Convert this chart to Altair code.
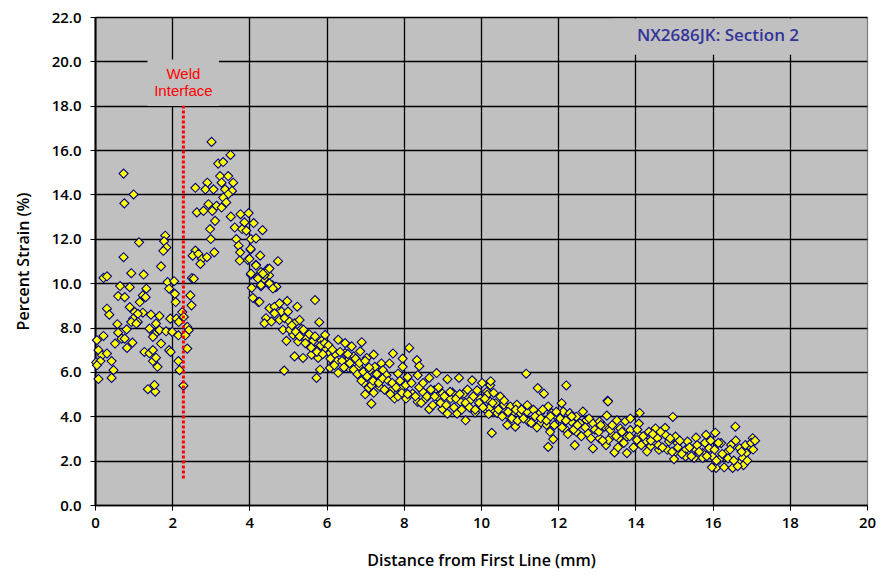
import altair as alt
import pandas as pd

# ---- data: (distance mm, percent strain) ----
near_start = [
    (0.74, 14.94), (1.0, 14.0), (0.76, 13.6), (1.14, 11.84), (1.82, 12.14), (1.79, 11.89),
    (1.85, 11.61), (1.77, 11.46), (0.74, 11.17), (1.71, 10.76), (0.22, 10.24), (0.31, 10.31),
    (0.94, 10.45), (1.26, 10.39), (0.65, 9.87), (0.9, 9.82), (1.33, 9.75), (0.6, 9.42),
    (0.77, 9.37), (1.24, 9.45), (1.31, 9.37), (0.31, 8.85), (0.37, 8.58), (0.9, 8.92),
    (1.16, 9.15), (1.03, 8.7), (1.24, 8.67), (1.11, 8.62), (0.99, 8.4), (1.11, 8.25),
    (0.94, 8.25), (1.45, 8.58), (1.67, 8.52), (0.58, 8.15), (0.82, 7.92), (1.07, 8.18),
    (1.41, 7.95), (1.58, 8.18), (1.67, 7.88), (1.54, 7.68), (1.84, 7.83), (0.05, 7.43),
    (0.22, 7.62), (0.6, 7.77), (0.69, 7.5), (0.52, 7.28), (0.77, 7.5), (0.97, 7.32),
    (0.83, 7.08), (1.5, 7.58), (1.71, 7.28), (1.28, 6.9), (1.41, 6.84), (1.5, 6.98),
    (1.92, 6.98), (1.96, 6.9), (0.09, 6.98), (0.18, 6.75), (0.31, 6.83), (0.43, 6.49),
    (0.03, 6.43), (0.14, 6.49), (1.5, 6.49), (1.62, 6.23), (1.58, 6.64), (0.48, 6.08),
    (0.43, 5.73), (0.09, 5.68), (1.37, 5.22), (1.56, 5.11), (1.54, 5.41), (0.05, 6.3),
]
near_weld = [
    (1.88, 10.05), (2.05, 10.09), (1.92, 9.75), (2.07, 9.52), (2.09, 9.15), (1.95, 8.4),
    (2.11, 8.4), (2.17, 8.25), (2.0, 7.8), (2.16, 7.65), (2.39, 8.03), (2.43, 7.88),
    (2.34, 7.65), (2.39, 7.05), (2.16, 6.49), (2.19, 6.08), (2.29, 5.38), (2.26, 8.7),
    (2.3, 8.48), (2.47, 9.45), (2.5, 9.0), (2.51, 10.23), (2.56, 10.2), (2.6, 11.47),
    (2.53, 11.24), (2.68, 11.32), (2.77, 11.09), (2.9, 11.17), (2.73, 10.87), (3.09, 11.39),
]
peak = [
    (3.02, 16.37), (3.51, 15.78), (3.19, 15.39), (3.32, 15.46), (2.6, 14.3), (2.91, 14.53),
    (2.86, 14.23), (3.07, 14.23), (3.24, 14.83), (3.45, 14.83), (3.58, 14.53), (3.28, 14.53),
    (3.37, 14.23), (3.55, 14.16), (3.45, 14.01), (3.32, 13.86), (2.94, 13.56), (3.15, 13.49),
    (3.28, 13.41), (3.4, 13.64), (2.64, 13.19), (2.81, 13.26), (3.04, 13.26), (3.11, 12.81),
    (3.52, 13.0), (3.77, 13.11), (3.98, 13.16), (3.87, 12.74), (4.11, 12.71), (3.62, 12.51),
    (3.81, 12.44), (3.92, 12.37), (4.34, 12.39), (2.98, 12.44), (3.0, 11.99), (3.66, 11.99),
    (3.72, 11.69), (4.04, 11.99), (4.17, 12.02), (3.76, 11.39), (4.03, 11.51), (4.28, 11.24),
    (3.75, 11.02), (3.96, 11.05), (4.17, 10.83), (4.47, 10.64), (4.3, 10.5), (4.51, 10.35),
    (4.04, 10.38), (4.21, 10.27), (4.38, 10.2), (4.6, 9.9), (4.68, 9.82), (4.06, 9.79),
    (4.3, 9.86), (4.51, 9.94), (4.09, 9.34), (4.23, 9.15),
]
decline = [
    (4.03, 11.55), (4.74, 10.99), (4.0, 11.1), (4.17, 10.8), (4.04, 10.43), (4.22, 10.21),
    (4.39, 10.36), (4.48, 10.58), (4.52, 10.66), (4.35, 10.43), (4.3, 9.91), (4.52, 9.99),
    (4.7, 9.84), (4.61, 9.76), (4.26, 9.16), (5.7, 9.24), (4.52, 8.87), (4.65, 8.94),
    (4.78, 9.09), (4.98, 9.19), (5.24, 8.94), (4.83, 8.72), (5.0, 8.72), (4.65, 8.64),
    (4.43, 8.42), (4.39, 8.19), (4.57, 8.27), (4.78, 8.34), (4.91, 8.42), (5.04, 8.27),
    (5.17, 8.19), (5.3, 8.34), (5.35, 7.94), (5.81, 8.24), (4.87, 7.9), (5.13, 7.67),
    (4.96, 7.4), (5.26, 7.37), (5.48, 7.52), (5.65, 7.4), (5.52, 7.22), (5.87, 7.4),
    (5.96, 7.67), (5.17, 6.7), (5.39, 6.63), (5.61, 6.78), (5.78, 6.63), (5.7, 7.0),
    (5.96, 7.07), (6.09, 6.85), (6.3, 7.45), (6.48, 7.3), (6.65, 7.15), (6.91, 7.34),
    (4.9, 6.06), (5.74, 5.73), (5.83, 6.1), (6.09, 6.18), (6.3, 5.96), (6.57, 6.18),
    (6.83, 6.25), (7.09, 6.1), (7.26, 6.1), (6.22, 6.78), (6.48, 6.85), (6.7, 6.7),
    (6.87, 6.93), (7.04, 6.63), (7.22, 6.78), (6.57, 6.55), (6.26, 6.48), (6.96, 5.51),
    (7.09, 5.28), (7.22, 5.06), (7.3, 5.73), (7.0, 4.99),
    (5.05, 7.9), (5.1, 8.1), (5.2, 7.8), (5.3, 7.6), (5.4, 7.9), (5.45, 7.3), (5.55, 7.7),
    (5.6, 7.1), (5.7, 7.6), (5.75, 6.9), (5.85, 7.2), (5.9, 6.8), (5.95, 7.3),
    (6.05, 7.2), (6.1, 6.6), (6.15, 7.0), (6.2, 6.3), (6.35, 6.9), (6.4, 6.5), (6.45, 6.2),
    (6.55, 6.8), (6.6, 6.4), (6.7, 6.1), (6.75, 6.6), (6.8, 5.9), (6.85, 6.4), (6.95, 6.0),
    (7.0, 6.5), (6.9, 5.6),
]
middle = [
    (8.14, 7.08), (7.72, 6.83), (7.97, 6.6), (8.34, 6.53), (8.4, 6.26), (7.97, 6.23),
    (7.42, 6.38), (7.25, 6.23), (7.12, 6.08), (7.46, 6.08), (7.63, 6.38), (7.32, 5.85),
    (7.55, 5.85), (7.85, 5.92), (8.1, 5.77), (8.36, 5.85), (8.66, 5.73), (8.85, 5.95),
    (9.13, 5.67), (9.43, 5.73), (9.77, 5.62), (10.03, 5.5), (10.24, 5.4), (7.16, 5.4),
    (7.38, 5.32), (7.68, 5.17), (7.93, 5.25), (8.23, 5.02), (8.49, 5.1), (8.79, 5.17),
    (9.0, 5.02), (9.26, 5.07), (9.56, 5.02), (9.9, 5.17), (10.15, 5.1), (7.16, 4.57),
    (7.76, 4.8), (8.06, 4.8), (8.36, 4.65), (8.57, 4.8), (8.87, 4.87), (9.21, 4.8),
    (9.47, 4.65), (9.72, 4.72), (9.98, 4.8), (10.24, 4.65), (8.66, 4.32), (9.0, 4.32),
    (9.13, 4.12), (9.38, 4.12), (9.6, 3.82), (9.85, 4.17), (10.11, 4.32), (10.32, 4.2),
    (10.28, 3.25),
    (7.05, 5.8), (7.1, 6.2), (7.2, 5.6), (7.3, 5.9), (7.35, 5.5), (7.45, 5.7), (7.5, 5.2),
    (7.6, 5.6), (7.65, 5.0), (7.7, 5.5), (7.8, 5.3), (7.85, 4.9), (7.9, 5.6), (7.95, 5.05),
    (8.05, 5.4), (8.1, 5.0), (8.2, 5.5), (8.3, 4.9), (8.4, 5.3), (8.45, 4.6), (8.5, 5.5),
    (8.6, 4.9), (8.7, 5.2), (8.75, 4.5), (8.8, 4.9), (8.9, 5.3), (8.95, 4.6),
    (9.05, 4.9), (9.1, 4.5), (9.2, 5.1), (9.3, 4.4), (9.35, 4.8), (9.45, 5.0), (9.5, 4.3),
    (9.6, 4.6), (9.65, 5.2), (9.7, 4.4), (9.8, 4.9), (9.85, 4.3), (9.95, 4.6),
]
later = [
    (11.17, 5.92), (10.25, 5.58), (11.47, 5.27), (11.63, 5.02), (12.21, 5.39), (13.28, 4.7),
    (13.26, 4.03), (10.16, 4.97), (10.33, 5.05), (10.5, 4.89), (10.38, 4.59), (10.59, 4.52),
    (10.76, 4.44), (10.93, 4.52), (10.21, 4.36), (10.42, 4.14), (10.68, 4.06), (10.85, 4.21),
    (11.02, 4.14), (11.19, 4.21), (11.36, 4.29), (11.53, 4.14), (11.74, 4.44), (11.83, 4.14),
    (12.09, 4.59), (12.13, 4.21), (12.3, 4.14), (12.47, 3.98), (12.64, 4.21), (12.34, 3.76),
    (12.56, 3.68), (12.73, 3.83), (12.9, 3.68), (13.07, 3.76), (13.2, 3.53), (13.32, 3.45),
    (13.41, 3.15), (11.96, 3.98), (11.53, 3.68), (11.7, 3.61), (11.23, 3.76), (10.89, 3.53),
    (10.68, 3.61), (11.79, 3.3), (12.17, 3.45), (12.47, 3.3), (12.77, 3.23), (13.07, 3.0),
    (13.24, 2.7), (11.74, 2.62), (11.87, 2.97), (12.43, 2.7), (12.9, 2.55),
    (10.05, 4.4), (10.1, 4.8), (10.2, 4.1), (10.3, 4.6), (10.45, 4.3), (10.55, 4.0),
    (10.6, 4.7), (10.7, 4.2), (10.8, 3.9), (10.9, 4.3), (10.95, 3.8),
    (11.05, 4.3), (11.1, 3.9), (11.2, 4.5), (11.3, 3.7), (11.4, 4.0), (11.45, 3.5),
    (11.55, 3.9), (11.6, 4.3), (11.7, 3.8), (11.8, 4.0), (11.9, 3.6), (11.95, 4.2),
    (12.05, 3.9), (12.1, 3.5), (12.2, 3.8), (12.25, 3.2), (12.35, 4.0), (12.4, 3.4),
    (12.5, 3.6), (12.6, 3.1), (12.7, 3.5), (12.8, 3.9), (12.85, 3.0), (12.95, 3.4),
]
tail = [
    (13.29, 4.67), (14.11, 4.15), (14.97, 3.97), (16.59, 3.53), (13.52, 3.82), (13.74, 3.78),
    (13.87, 3.9), (14.09, 3.67), (13.35, 3.38), (13.61, 3.45), (13.87, 3.38), (14.09, 3.16),
    (14.35, 3.3), (14.52, 3.45), (14.77, 3.48), (13.3, 2.93), (13.57, 3.01), (13.78, 3.08),
    (14.04, 2.93), (14.26, 2.86), (14.39, 2.64), (14.57, 3.01), (14.78, 3.16), (15.04, 3.08),
    (14.87, 2.86), (15.09, 2.79), (15.35, 2.86), (15.57, 3.04), (15.83, 3.16), (16.07, 3.26),
    (16.22, 2.79), (15.3, 2.49), (15.04, 2.41), (14.83, 2.49), (14.61, 2.49), (14.3, 2.41),
    (13.78, 2.34), (13.46, 2.37), (15.57, 2.49), (15.74, 2.34), (15.91, 2.56), (16.0, 2.19),
    (16.17, 2.04), (16.35, 2.34), (16.48, 2.71), (16.7, 2.56), (16.87, 2.34), (17.04, 3.01),
    (16.96, 2.64), (16.09, 1.67), (15.98, 1.7), (16.3, 1.7), (16.52, 1.67), (16.7, 1.9),
    (16.78, 2.12), (15.74, 2.12), (15.52, 2.12), (15.0, 2.07), (15.3, 2.19),
    (13.05, 3.3), (13.1, 3.6), (13.15, 2.9), (13.4, 3.6), (13.5, 3.1), (13.55, 2.6),
    (13.65, 3.3), (13.7, 2.8), (13.85, 3.1), (13.95, 2.6),
    (14.05, 3.4), (14.15, 2.7), (14.2, 3.1), (14.4, 2.9), (14.45, 3.2), (14.6, 2.7),
    (14.65, 3.3), (14.7, 2.6), (14.9, 3.0), (14.95, 2.4),
    (15.1, 2.6), (15.15, 2.9), (15.2, 2.3), (15.4, 2.6), (15.45, 2.2), (15.6, 2.7),
    (15.65, 2.4), (15.8, 2.8), (15.85, 2.2), (15.95, 2.9),
    (16.05, 2.5), (16.1, 2.0), (16.15, 2.8), (16.25, 2.3), (16.4, 2.1), (16.45, 2.5),
    (16.55, 2.0), (16.6, 2.9), (16.75, 2.4), (16.8, 1.8), (16.85, 2.7), (16.9, 2.0),
    (17.0, 2.8), (17.05, 2.5), (17.1, 2.9), (16.65, 1.75),
]

x_ticks = list(range(0, 21, 2))
y_ticks = list(range(0, 23, 2))

all_pts = near_start + near_weld + peak + decline + middle + later + tail
points = pd.DataFrame(all_pts, columns=["dist", "strain"])

# annotation layer data
weld_line = pd.DataFrame({"x": [2.29], "y": [1.2], "y2": [18.0]})
boxes = pd.DataFrame({"x": [1.36, 13.4], "x2": [3.21, 19.96],
                      "y": [17.99, 20.3], "y2": [20.08, 21.93]})
weld_text = pd.DataFrame({"x": [2.29, 2.29], "y": [19.45, 18.65], "t": ["Weld", "Interface"]})
title_text = pd.DataFrame({"x": [16.14], "y": [21.16], "t": ["NX2686JK: Section 2"]})

FONT = "Open Sans"

xscale = alt.Scale(domain=[0, 20], nice=False, zero=False)
yscale = alt.Scale(domain=[0, 22], nice=False)

xaxis = alt.Axis(values=x_ticks, format="d", grid=True, labelFlush=False,
                 gridColor=alt.condition("datum.value === 20", alt.value("#808080"), alt.value("#000000")),
                 gridWidth=1.3, domainColor="#000000", domainWidth=1.5,
                 tickColor="#000000", tickSize=5, labelFont=FONT, labelFontSize=15,
                 labelFontWeight=600, labelColor="#000000", labelPadding=5,
                 title="Distance from First Line (mm)", titleFont=FONT, titleFontSize=16,
                 titleFontWeight=600, titleColor="#000000", titleY=47, titleBaseline="top")
yaxis = alt.Axis(values=y_ticks, format=".1f", grid=True, gridColor="#000000", gridWidth=1.3,
                 labelFlush=False,
                 domainColor="#000000", domainWidth=2, tickColor="#000000", tickSize=5,
                 labelFont=FONT, labelFontSize=15, labelFontWeight=600, labelColor="#000000",
                 labelPadding=9, title="Percent Strain (%)", titleFont=FONT, titleFontSize=16,
                 titleFontWeight=600, titleColor="#000000", titleX=-64)

base_pts = alt.Chart(points).mark_point(
    shape="diamond", fill="#ffff00", stroke="#00007f", strokeWidth=1.1,
    size=82, opacity=1, fillOpacity=1
).encode(
    x=alt.X("dist:Q", scale=xscale, axis=xaxis),
    y=alt.Y("strain:Q", scale=yscale, axis=yaxis),
)

box_layer = alt.Chart(boxes).mark_rect(fill="#c0c0c0").encode(
    x=alt.X("x:Q", scale=xscale), x2="x2:Q",
    y=alt.Y("y:Q", scale=yscale), y2="y2:Q",
)

weld_txt = alt.Chart(weld_text).mark_text(
    font="Liberation Sans", fontSize=15, color="#ff0000", align="center", baseline="middle"
).encode(x=alt.X("x:Q", scale=xscale), y=alt.Y("y:Q", scale=yscale), text="t:N")

title_txt = alt.Chart(title_text).mark_text(
    font=FONT, fontSize=17, fontWeight=600, color="#333399", align="center", baseline="middle"
).encode(x=alt.X("x:Q", scale=xscale), y=alt.Y("y:Q", scale=yscale), text="t:N")

weld_rule = alt.Chart(weld_line).mark_rule(
    color="#ff0000", strokeWidth=3, strokeDash=[3, 2]
).encode(x=alt.X("x:Q", scale=xscale), y=alt.Y("y:Q", scale=yscale), y2="y2:Q")

chart = alt.layer(base_pts, box_layer, weld_txt, title_txt, weld_rule).properties(
    width=772, height=488,
    autosize=alt.AutoSizeParams(type="none"),
    padding={"left": 87, "top": 9, "right": 9, "bottom": 67},
).configure_view(
    fill="#c0c0c0", stroke="#808080", strokeWidth=1
)

chart.save("out.html", embed_options={"renderer": "svg", "actions": False})
